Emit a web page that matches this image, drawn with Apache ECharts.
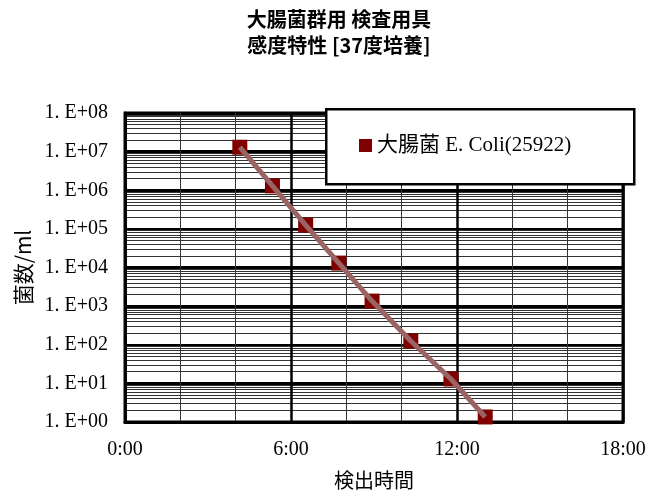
<!DOCTYPE html>
<html>
<head>
<meta charset="utf-8">
<script src="https://cdn.jsdelivr.net/npm/echarts@6/dist/echarts.min.js"></script>
<style>
  html, body { margin: 0; padding: 0; background: #fff; }
  #chart { width: 650px; height: 492px; }
</style>
</head>
<body>
<div id="chart"></div>
<script>
// Detection time (hours) and bacterial count per ml
const seriesName = '大腸菌 E. Coli(25922)';
const hours = [4.15, 5.33, 6.53, 7.73, 8.93, 10.33, 11.78, 13.02];
const counts = [1.3e7, 1.3e6, 1.25e5, 1.3e4, 1.35e3, 1.25e2, 1.3e1, 1.35];
const xTicks = [0, 6, 12, 18];

const points = hours.map((h, i) => [h, counts[i]]);

const serif = '"Liberation Serif", "DejaVu Serif", "Noto Sans CJK JP", serif';
const cjk = '"Noto Sans CJK JP", sans-serif';

const chart = echarts.init(document.getElementById('chart'), null, { renderer: 'canvas' });

chart.setOption({
  backgroundColor: '#fff',
  animation: false,
  title: {
    text: '大腸菌群用 検査用具\n感度特性 [37度培養]',
    left: 334,
    top: 1,
    textAlign: 'center',
    textStyle: {
      fontFamily: cjk,
      fontSize: 20,
      fontWeight: 'bold',
      color: '#000',
      lineHeight: 26
    }
  },
  graphic: [{
    type: 'rect',
    left: 325,
    top: 108,
    z: 50,
    shape: { width: 308, height: 75 },
    style: { fill: '#fff', stroke: '#000', lineWidth: 2.5 }
  }],
  legend: {
    left: 354,
    top: 130,
    z: 60,
    itemWidth: 13,
    itemHeight: 13,
    itemGap: 5,
    textStyle: { fontFamily: serif, fontSize: 21, color: '#000' },
    data: [{ name: seriesName, icon: 'rect', itemStyle: { color: '#800000', opacity: 1 } }]
  },
  grid: {
    left: 125, top: 113, right: 27, bottom: 70,
    outerBoundsMode: 'none',
    containLabel: false,
    show: true, borderColor: '#000', borderWidth: 3
  },
  xAxis: {
    type: 'value',
    min: 0, max: 18, interval: 6,
    name: '検出時間',
    nameLocation: 'middle',
    nameGap: 48,
    nameTextStyle: { fontFamily: cjk, fontSize: 20, color: '#000' },
    axisLine: { show: true, lineStyle: { color: '#000', width: 3 } },
    axisTick: { show: false },
    axisLabel: {
      margin: 18,
      fontFamily: serif, fontSize: 20, color: '#000',
      formatter: v => (xTicks.includes(v) ? v + ':00' : '')
    },
    splitLine: { show: true, lineStyle: { color: '#000', width: 2.5 } },
    minorTick: { show: false, splitNumber: 3 },
    minorSplitLine: { show: true, lineStyle: { color: '#333', width: 1 } }
  },
  yAxis: {
    type: 'log',
    logBase: 10,
    min: 1, max: 1e8, interval: 1,
    name: '菌数/ml',
    nameLocation: 'middle',
    nameGap: 90,
    nameRotate: 90,
    nameTextStyle: { fontFamily: cjk, fontSize: 21, color: '#000' },
    axisLine: { show: true, lineStyle: { color: '#000', width: 3 } },
    axisTick: { show: false },
    axisLabel: {
      margin: 17,
      fontFamily: serif, fontSize: 20, color: '#000',
      formatter: v => {
        const e = Math.round(Math.log10(v));
        return '1. E+' + String(e).padStart(2, '0');
      }
    },
    splitLine: { show: true, lineStyle: { color: '#000', width: 3 } },
    minorTick: { show: false, splitNumber: 9 },
    minorSplitLine: { show: true, lineStyle: { color: '#333', width: 1 } }
  },
  series: [
    {
      name: seriesName,
      type: 'scatter',
      data: points,
      symbol: 'rect',
      symbolSize: 15,
      itemStyle: { color: '#800000', opacity: 1 },
      z: 3
    },
    {
      name: seriesName,
      type: 'line',
      data: points,
      showSymbol: false,
      symbol: 'none',
      lineStyle: { color: '#9b6464', width: 5 },
      z: 4
    }
  ]
});
</script>
</body>
</html>
